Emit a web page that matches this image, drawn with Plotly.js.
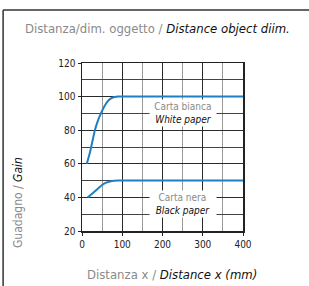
<!DOCTYPE html>
<html><head><meta charset="utf-8">
<script src="https://cdn.plot.ly/plotly-3.0.1.min.js"></script>
<style>html,body{margin:0;padding:0;background:#fff;}#chart{width:309px;height:286px;}
#chart text{font-stretch:condensed !important;}</style>
</head><body><div id="chart"></div>
<script>
const whiteX = [12, 20, 32, 40, 47, 55, 65, 75, 90, 100, 400];
const whiteY = [60, 67, 80, 86, 90, 94, 97.5, 99.3, 100, 100, 100];
const blackX = [14, 25, 35, 49, 60, 75, 90, 400];
const blackY = [40, 42.2, 44.3, 47.2, 48.8, 49.8, 50, 50];
const xTicks = [0, 100, 200, 300, 400];
const yTicks = [20, 40, 60, 80, 100, 120];
const labels = [
  {it: "Carta bianca", en: "White paper", x: 251, y: 90},
  {it: "Carta nera", en: "Black paper", x: 251, y: 36}
];

const FONT = "DejaVu Sans Condensed, DejaVu Sans, sans-serif";
const blue = "#1f7fc4";

const data = [
  {x: whiteX, y: whiteY, mode: "lines", line: {color: blue, width: 2, shape: "spline", smoothing: 0.3}, hoverinfo: "skip"},
  {x: blackX, y: blackY, mode: "lines", line: {color: blue, width: 2, shape: "spline", smoothing: 0.3}, hoverinfo: "skip"}
];

const annotations = [];
labels.forEach(l => {
  annotations.push({
    x: l.x, y: l.y, xref: "x", yref: "y", showarrow: false,
    text: '<span style="color:#8a8a8a">' + l.it + '</span><br><i>' + l.en + '</i>',
    font: {family: FONT, size: 10, color: "#111"},
    bgcolor: "#fff", borderpad: 1, width: 64, align: "center"
  });
});
annotations.push({
  xref: "paper", yref: "paper", x: 0.469, y: 1.208, xanchor: "center", yanchor: "middle", showarrow: false,
  text: '<span style="color:#8a8a8a">Distanza/dim. oggetto / </span><i>Distance object diim.</i>',
  font: {family: FONT, size: 13, color: "#111"}
});
annotations.push({
  xref: "paper", yref: "paper", x: 0.556, y: -0.256, xanchor: "center", yanchor: "middle", showarrow: false,
  text: '<span style="color:#8a8a8a">Distanza x / </span><i>Distance x (mm)</i>',
  font: {family: FONT, size: 13, color: "#111"}
});
annotations.push({
  xref: "paper", yref: "paper", x: -0.397, y: 0.167, xanchor: "center", yanchor: "middle", showarrow: false, textangle: -90,
  text: '<span style="color:#8a8a8a">Guadagno / </span><i>Gain</i>',
  font: {family: FONT, size: 12, color: "#111"}
});

const layout = {
  width: 309, height: 286,
  margin: {l: 82, r: 66, t: 63, b: 55},
  paper_bgcolor: "#fff", plot_bgcolor: "#fff",
  showlegend: false,
  font: {family: FONT, size: 10, color: "#222"},
  xaxis: {
    range: [0, 400], tickvals: xTicks, ticktext: xTicks.map(String),
    showgrid: true, gridcolor: "#2a2a2a", gridwidth: 1,
    minor: {dtick: 50, showgrid: true, gridcolor: "#999", gridwidth: 1},
    showline: true, linecolor: "#222", linewidth: 1.5, mirror: true,
    ticks: "outside", ticklen: 3, tickcolor: "#222",
    zeroline: false, fixedrange: true
  },
  yaxis: {
    range: [20, 120], tickvals: yTicks, ticktext: yTicks.map(String),
    showgrid: true, gridcolor: "#2a2a2a", gridwidth: 1,
    minor: {dtick: 10, showgrid: true, gridcolor: "#444", gridwidth: 1},
    showline: true, linecolor: "#222", linewidth: 1.5, mirror: true,
    ticks: "outside", ticklen: 3, tickcolor: "#222",
    zeroline: false, fixedrange: true
  },
  annotations: annotations,
  shapes: [
    {type: "line", xref: "paper", yref: "paper", x0: -0.49, x1: 1.45, y0: 1.315, y1: 1.315, line: {color: "#333", width: 1.5}},
    {type: "line", xref: "paper", yref: "paper", x0: -0.49, x1: -0.49, y0: 1.315, y1: -0.4, line: {color: "#333", width: 1.5}}
  ]
};
Plotly.newPlot("chart", data, layout, {staticPlot: true, displayModeBar: false});
</script></body></html>
